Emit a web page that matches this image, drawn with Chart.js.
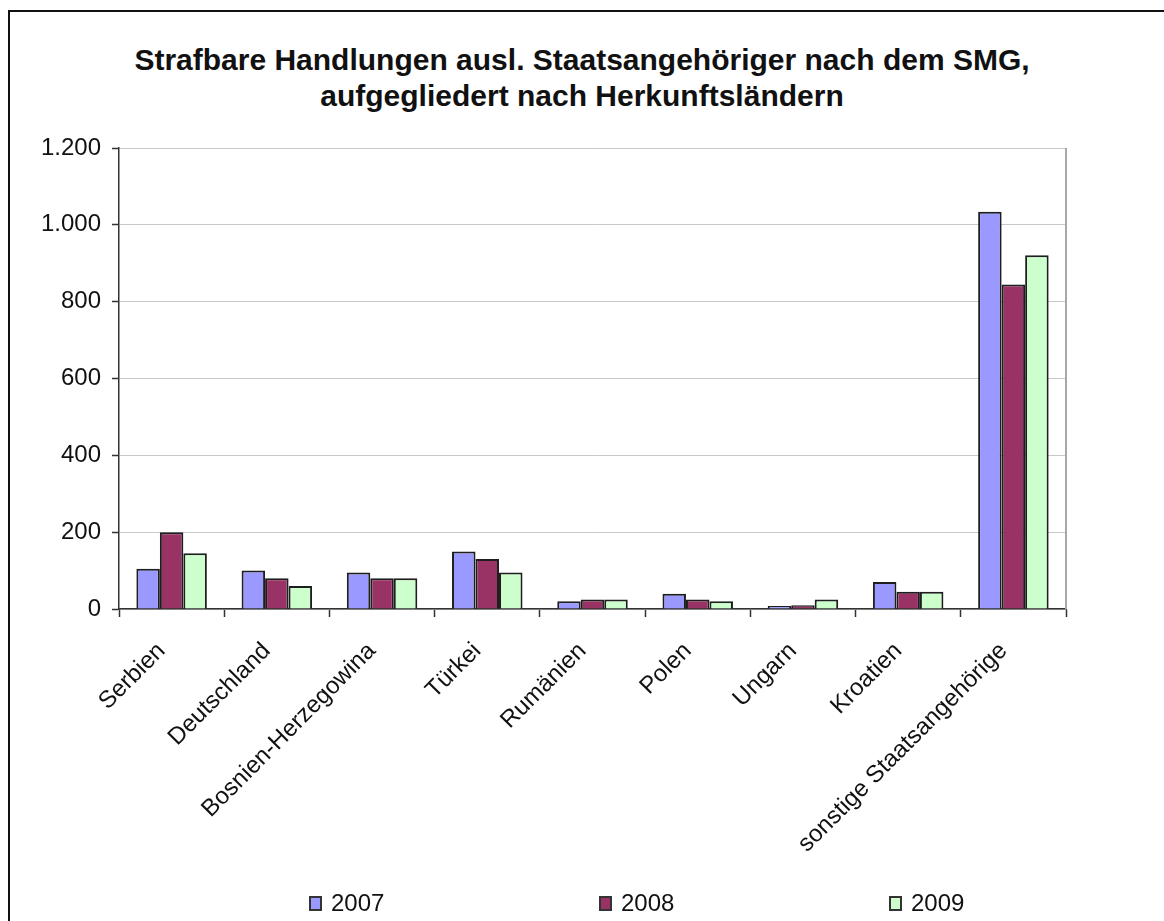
<!DOCTYPE html>
<html>
<head>
<meta charset="utf-8">
<script src="https://cdn.jsdelivr.net/npm/chart.js@4"></script>
<style>
  html, body { margin: 0; padding: 0; background: #fff; }
  body { width: 1164px; height: 921px; position: relative; overflow: hidden; font-family: "Liberation Sans", Arial, sans-serif; }
  #frame { position: absolute; left: 8px; top: 10px; width: 1200px; height: 1000px; border-left: 2px solid #111; border-top: 2px solid #111; }
  #title { position: absolute; left: 0; top: 42px; width: 1164px; text-align: center; font-weight: bold; font-size: 30px; line-height: 36px; color: #111; }
  #c { position: absolute; left: 0; top: 0; }
  #legend { position: absolute; top: 889px; left: 0; width: 1164px; height: 28px; }
  .li { position: absolute; top: 0; display: flex; align-items: center; font-size: 24px; color: #111; line-height: 28px; }
  .lb { width: 13px; height: 15px; border: 2px solid #333; box-sizing: border-box; margin-right: 9px; }
</style>
</head>
<body>
<div id="frame"></div>
<div id="title">Strafbare Handlungen ausl. Staatsangehöriger nach dem SMG,<br>aufgegliedert nach Herkunftsländern</div>
<canvas id="c" width="1164" height="921"></canvas>
<div id="legend"></div>
<script>
const categories = ["Serbien", "Deutschland", "Bosnien-Herzegowina", "Türkei", "Rumänien", "Polen", "Ungarn", "Kroatien", "sonstige Staatsangehörige"];
const seriesNames = ["2007", "2008", "2009"];
const values2007 = [105, 100, 95, 150, 20, 40, 8, 70, 1034];
const values2008 = [200, 80, 80, 130, 25, 25, 10, 45, 845];
const values2009 = [145, 60, 80, 95, 25, 20, 25, 45, 921];
const yTicks = [0, 200, 400, 600, 800, 1000, 1200];
const colors = ["#9999FF", "#993366", "#CCFFCC"];
const legendX = [309, 599, 889];

const fmt = v => String(v).replace(/\B(?=(\d{3})+(?!\d))/g, ".");

const rightBorder = {
  id: 'rightBorder',
  afterDraw(chart) {
    const a = chart.chartArea, ctx = chart.ctx;
    ctx.save();
    ctx.strokeStyle = '#a8a8a8';
    ctx.lineWidth = 2;
    ctx.beginPath();
    ctx.moveTo(a.right, a.top);
    ctx.lineTo(a.right, a.bottom);
    ctx.stroke();
    ctx.restore();
  }
};

const allSeries = [values2007, values2008, values2009];
new Chart(document.getElementById('c'), {
  type: 'bar',
  data: {
    labels: categories,
    datasets: allSeries.map((d, i) => ({
      label: seriesNames[i],
      data: d,
      backgroundColor: colors[i],
      borderColor: '#1e1e1e',
      borderWidth: 2,
      categoryPercentage: 0.67,
      barPercentage: 1.0
    }))
  },
  options: {
    responsive: false,
    animation: false,
    devicePixelRatio: 1,
    layout: { padding: { left: 19, top: 148, right: 98, bottom: 0 } },
    plugins: { legend: { display: false }, title: { display: false }, tooltip: { enabled: false } },
    scales: {
      x: {
        grid: { offset: true, drawOnChartArea: false, drawTicks: true, tickLength: 8, tickColor: '#333', tickWidth: 1.5 },
        border: { color: '#333', width: 1.5 },
        ticks: { color: '#111', font: { family: 'Liberation Sans', size: 24 }, minRotation: 45, maxRotation: 45, padding: 20, labelOffset: -10, autoSkip: false },
        afterFit(s) { s.height = 921 - 609; }
      },
      y: {
        min: 0, max: 1200,
        afterBuildTicks(s) { s.ticks = yTicks.map(v => ({ value: v })); },
        grid: { color: '#c8c8c8', lineWidth: 1, tickColor: '#333', tickLength: 7, tickWidth: 1.5 },
        border: { color: '#333', width: 1.5 },
        ticks: { color: '#111', font: { family: 'Liberation Sans', size: 24 }, padding: 11, callback: v => fmt(v) },
        afterFit(s) { s.width = 100; }
      }
    }
  },
  plugins: [rightBorder]
});

const lg = document.getElementById('legend');
seriesNames.forEach((n, i) => {
  const d = document.createElement('div');
  d.className = 'li';
  d.style.left = legendX[i] + 'px';
  const b = document.createElement('div');
  b.className = 'lb';
  b.style.background = colors[i];
  d.appendChild(b);
  d.appendChild(document.createTextNode(n));
  lg.appendChild(d);
});
</script>
</body>
</html>
